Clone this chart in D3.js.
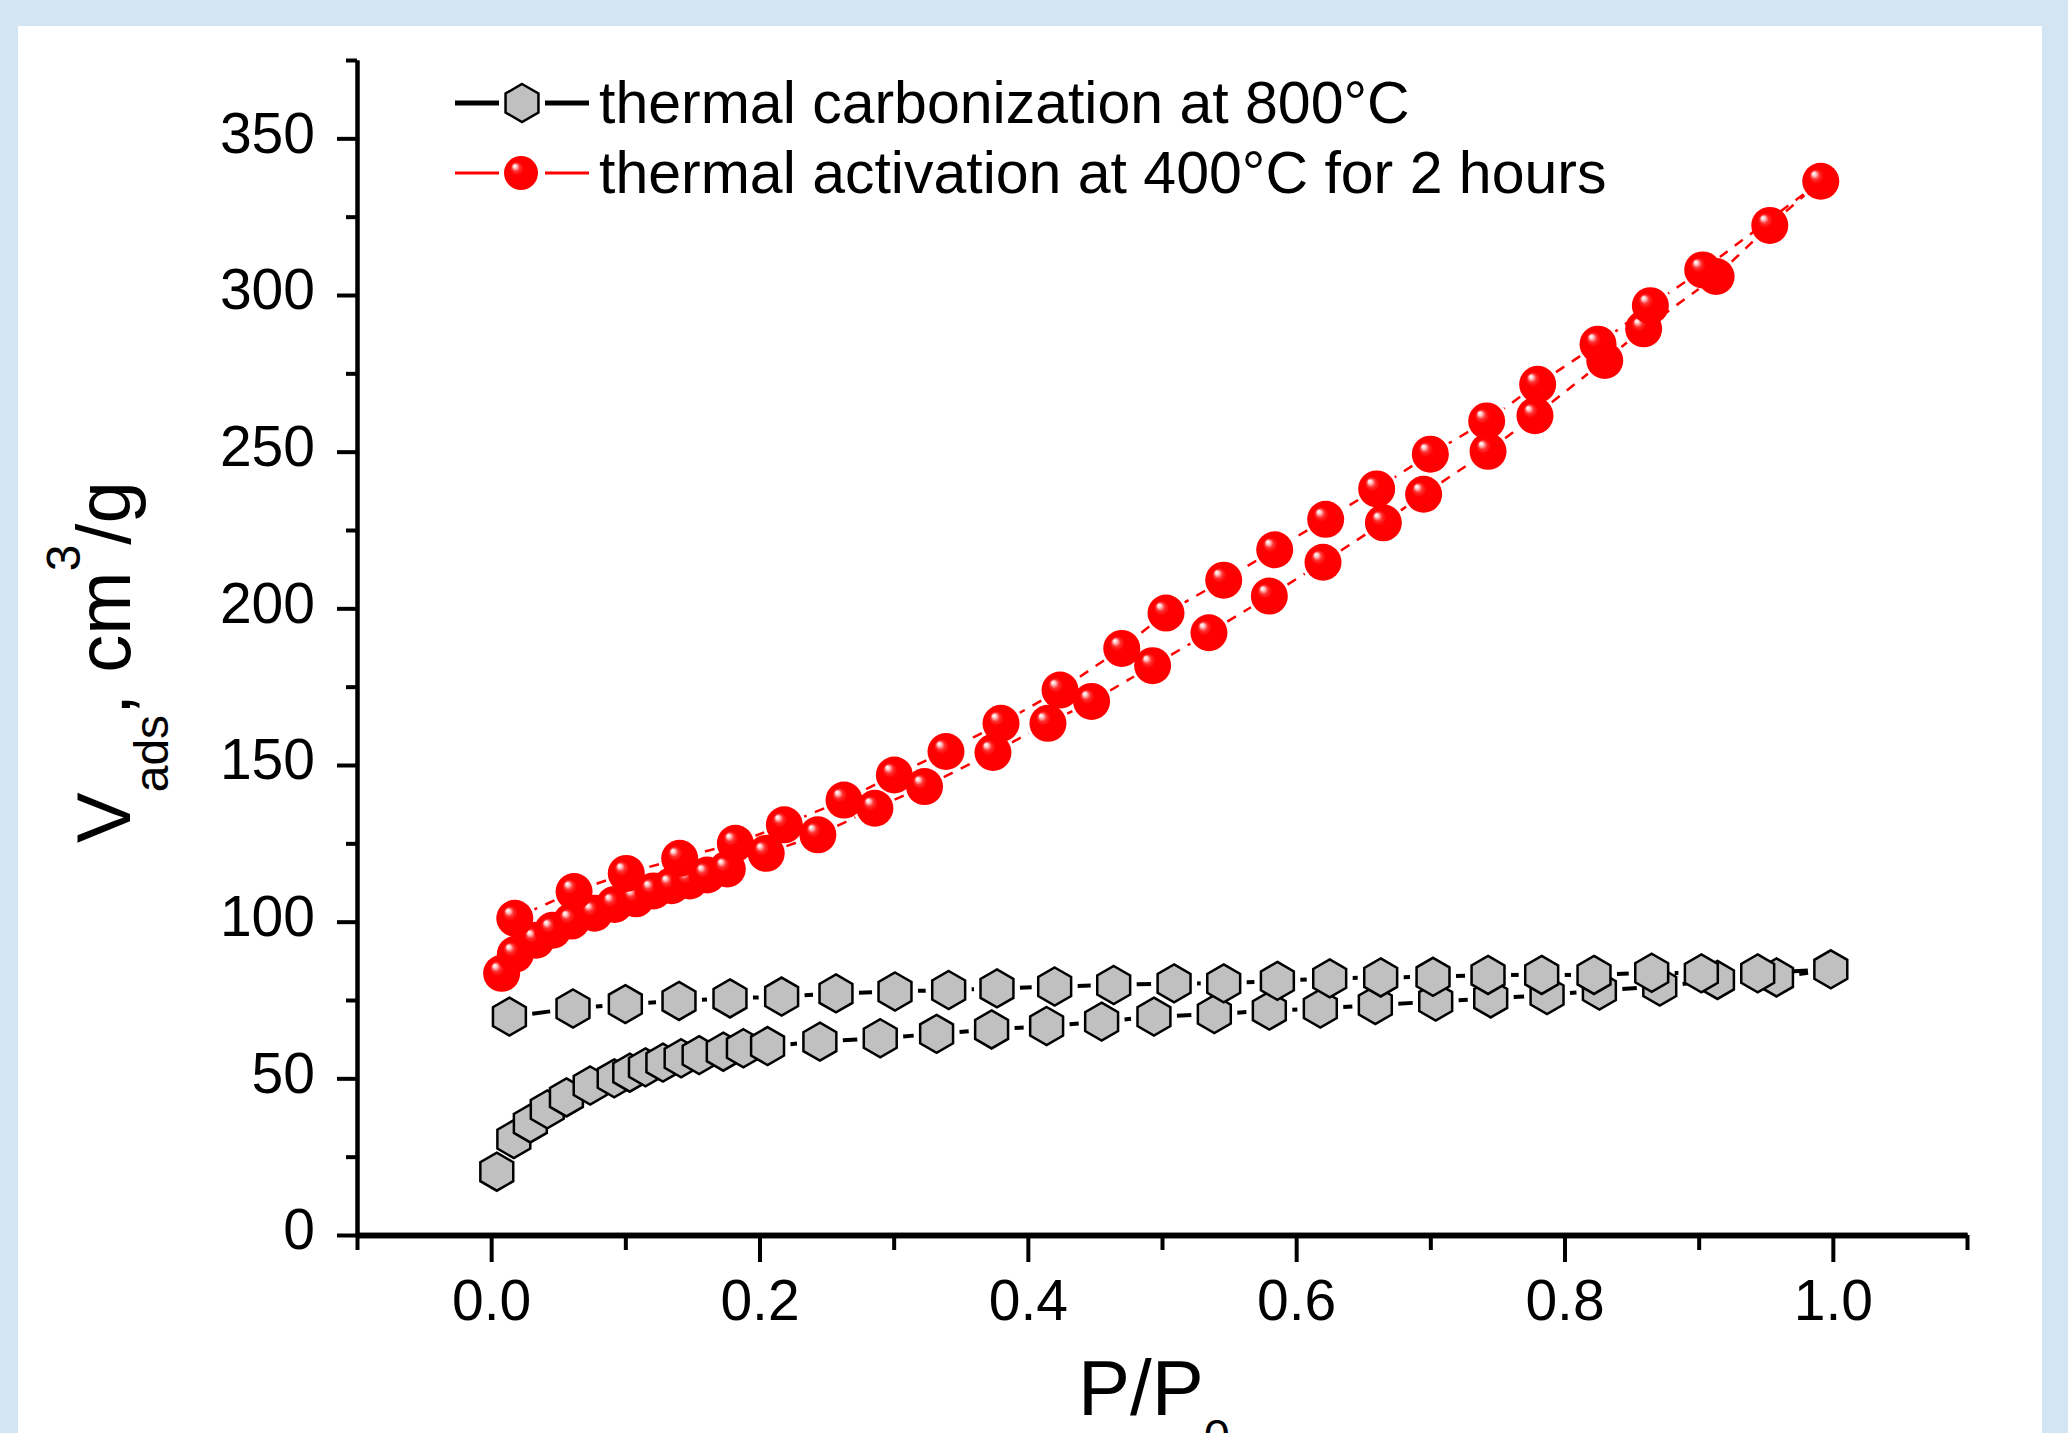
<!DOCTYPE html>
<html>
<head>
<meta charset="utf-8">
<script src="https://cdn.jsdelivr.net/npm/d3@7/dist/d3.min.js"></script>
<style>
  html, body { margin: 0; padding: 0; background: #d3e4f3; }
  svg { display: block; }
  text { font-family: "Liberation Sans", Arial, sans-serif; fill: #000; }
</style>
</head>
<body>
<svg id="chart" width="2068" height="1433"></svg>
<script>
// ---------------- data ----------------
const grayAdsX = [0.0042,0.0169,0.0292,0.0418,0.0561,0.0738,0.0917,0.1033,0.115,0.128,0.1416,0.155,0.173,0.188,0.206,0.245,0.290,0.332,0.373,0.414,0.455,0.494,0.539,0.580,0.618,0.659,0.704,0.745,0.787,0.826,0.871,0.914,0.958,0.9985];
const grayAdsY = [20.2,30.6,35.6,40.1,43.9,47.7,50.0,51.8,53.5,55.0,56.4,57.4,58.5,59.6,60.3,61.7,62.8,64.2,65.6,66.7,68.1,69.7,70.5,71.6,72.3,73.4,74.5,75.5,76.6,78.0,79.3,81.4,82.2,84.8];
const grayDesX = [0.944,0.902,0.865,0.822,0.783,0.743,0.702,0.663,0.625,0.586,0.546,0.509,0.464,0.420,0.377,0.341,0.301,0.257,0.2165,0.178,0.140,0.100,0.061,0.0136];
const grayDesY = [83.5,83.5,83.7,83.0,83.0,83.0,82.4,82.2,81.9,81.1,80.3,80.3,79.8,79.3,78.7,78.2,77.7,77.1,76.1,75.5,74.7,73.7,72.3,69.7];

const redAdsX = [0.0078,0.018,0.0335,0.046,0.060,0.077,0.092,0.108,0.121,0.1345,0.148,0.161,0.176,0.205,0.2435,0.286,0.323,0.374,0.415,0.4475,0.493,0.535,0.580,0.620,0.665,0.695,0.743,0.778,0.830,0.859,0.913,0.953,0.991];
const redAdsY = [83.5,89.6,94.1,97.3,100.2,102.7,105.5,107.3,109.8,111.5,113.0,114.9,116.8,121.8,127.7,136.2,143.1,154.0,163.3,170.3,181.7,192.2,203.9,214.7,227.3,236.4,250.1,261.5,279.1,289.2,305.9,322.2,336.3];
const redDesX = [0.903,0.864,0.825,0.780,0.742,0.700,0.660,0.622,0.584,0.546,0.503,0.470,0.424,0.380,0.339,0.3005,0.263,0.2185,0.182,0.1405,0.1007,0.0618,0.0176];
const redDesY = [308.0,296.6,284.3,271.5,259.8,249.2,238.1,228.4,218.7,209.0,198.5,187.2,173.9,163.3,154.3,146.8,138.8,130.9,125.0,120.2,115.4,109.6,101.1];

const xMajorTicks = [0.0,0.2,0.4,0.6,0.8,1.0];
const xMinorTicks = [-0.1,0.1,0.3,0.5,0.7,0.9,1.1];
const yMajorTicks = [0,50,100,150,200,250,300,350];
const yMinorTicks = [25,75,125,175,225,275,325,375];
const legendLabels = ["thermal carbonization at 800°C", "thermal activation at 400°C for 2 hours"];

// ---------------- layout ----------------
const svg = d3.select("#chart");
const W = 2068, H = 1433;
const x = d3.scaleLinear().domain([-0.1, 1.1]).range([357, 1967]);
const y = d3.scaleLinear().domain([0, 375]).range([1235, 60]);

// background
svg.append("rect").attr("width", W).attr("height", H).attr("fill", "#d3e4f3");
svg.append("rect").attr("x", 18).attr("y", 26).attr("width", 2024).attr("height", H - 26).attr("fill", "#ffffff");

const defs = svg.append("defs");
const grad = defs.append("radialGradient").attr("id", "ball")
  .attr("cx", "0.5").attr("cy", "0.5").attr("r", "0.5").attr("fx", "0.3").attr("fy", "0.28");
grad.append("stop").attr("offset", "0%").attr("stop-color", "#ffffff");
grad.append("stop").attr("offset", "10%").attr("stop-color", "#ffd0d0");
grad.append("stop").attr("offset", "24%").attr("stop-color", "#ff3030");
grad.append("stop").attr("offset", "40%").attr("stop-color", "#ff0000");
grad.append("stop").attr("offset", "100%").attr("stop-color", "#ff0000");

const HEX_R = 19, BALL_R = 18.5;
const hexPath = (() => {
  const p = d3.path();
  for (let i = 0; i < 6; i++) {
    const a = (-90 + 60 * i) * Math.PI / 180;
    const px = HEX_R * Math.cos(a), py = HEX_R * Math.sin(a);
    if (i === 0) p.moveTo(px, py); else p.lineTo(px, py);
  }
  p.closePath();
  return p.toString();
})();

// ---------------- axes ----------------
const xAxisMinor = d3.axisBottom(x).tickValues(xMinorTicks).tickSize(15).tickSizeOuter(0).tickFormat("");
const xAxisMajor = d3.axisBottom(x).tickValues(xMajorTicks).tickSize(27).tickSizeOuter(0).tickFormat(d3.format(".1f"));
const yAxisMinor = d3.axisLeft(y).tickValues(yMinorTicks).tickSize(11).tickSizeOuter(0).tickFormat("");
const yAxisMajor = d3.axisLeft(y).tickValues(yMajorTicks).tickSize(20).tickSizeOuter(0).tickFormat(d3.format("d"));

function styleAxis(g, domainW) {
  g.select(".domain").attr("stroke", "#000").attr("stroke-width", domainW);
  g.selectAll(".tick line").attr("stroke", "#000").attr("stroke-width", 4);
  g.selectAll(".tick text").style("font-family", '"Liberation Sans", Arial, sans-serif')
    .style("font-size", "57px").attr("fill", "#000");
}

const gy1 = svg.append("g").attr("transform", `translate(${x(-0.1)},0)`).call(yAxisMinor);
styleAxis(gy1, 4);
const gy2 = svg.append("g").attr("transform", `translate(${x(-0.1)},0)`).call(yAxisMajor);
styleAxis(gy2, 4);
gy2.selectAll(".tick text").attr("x", -42).attr("dy", "0.245em");

const gx1 = svg.append("g").attr("transform", `translate(0,${y(0)})`).call(xAxisMinor);
styleAxis(gx1, 5.5);
const gx2 = svg.append("g").attr("transform", `translate(0,${y(0)})`).call(xAxisMajor);
styleAxis(gx2, 5.5);
gx2.selectAll(".tick text").attr("y", 85).attr("dy", "0");

// axis titles
const xt = svg.append("text").attr("x", 1154).attr("y", 1415).attr("text-anchor", "middle")
  .style("font-size", "78px");
xt.append("tspan").text("P/P");
xt.append("tspan").attr("dy", 37).style("font-size", "47px").text("0");

const yt = svg.append("text").attr("transform", "translate(130,843) rotate(-90)")
  .attr("x", 0).attr("y", 0).style("font-size", "76px");
yt.append("tspan").text("V");
yt.append("tspan").attr("dy", 38).style("font-size", "48px").text("ads");
yt.append("tspan").attr("dy", -38).text(", cm");
yt.append("tspan").attr("dy", -50).style("font-size", "48px").text("3");
yt.append("tspan").attr("dy", 50).text("/g");

// ---------------- series ----------------
function seriesPoints(ax, ay, dx, dy) {
  const pts = ax.map((v, i) => [v, ay[i]]);
  const pts2 = dx.map((v, i) => [v, dy[i]]);
  return pts.concat(pts2);
}
function drawSegments(g, pts, gap, stroke, width, dash) {
  const segs = [];
  for (let i = 0; i < pts.length - 1; i++) {
    const x1 = x(pts[i][0]), y1 = y(pts[i][1]);
    const x2 = x(pts[i + 1][0]), y2 = y(pts[i + 1][1]);
    const L = Math.hypot(x2 - x1, y2 - y1);
    if (L <= 2 * gap) continue;
    const ux = (x2 - x1) / L, uy = (y2 - y1) / L;
    segs.push([x1 + ux * gap, y1 + uy * gap, x2 - ux * gap, y2 - uy * gap]);
  }
  g.selectAll(null).data(segs).enter().append("line")
    .attr("x1", d => d[0]).attr("y1", d => d[1]).attr("x2", d => d[2]).attr("y2", d => d[3])
    .attr("stroke", stroke).attr("stroke-width", width)
    .attr("stroke-dasharray", dash || null);
}

const grayPts = seriesPoints(grayAdsX, grayAdsY, grayDesX, grayDesY);
const redPts = seriesPoints(redAdsX, redAdsY, redDesX, redDesY);

const gGray = svg.append("g");
drawSegments(gGray, grayPts, HEX_R + 4, "#000", 4, null);
gGray.selectAll("path.hex").data(grayPts).enter().append("path").attr("class", "hex")
  .attr("d", hexPath).attr("transform", d => `translate(${x(d[0])},${y(d[1])})`)
  .attr("fill", "#c0c0c0").attr("stroke", "#000").attr("stroke-width", 2.5);

const gRed = svg.append("g");
drawSegments(gRed, redPts, BALL_R + 3, "#ff0000", 2.5, "10,9");
gRed.selectAll("circle").data(redPts).enter().append("circle")
  .attr("cx", d => x(d[0])).attr("cy", d => y(d[1])).attr("r", BALL_R)
  .attr("fill", "url(#ball)");

// ---------------- legend ----------------
const lg = svg.append("g");
const rowY = [103, 173];
// row 1
lg.append("line").attr("x1", 455).attr("x2", 499).attr("y1", rowY[0]).attr("y2", rowY[0]).attr("stroke", "#000").attr("stroke-width", 5);
lg.append("line").attr("x1", 545).attr("x2", 589).attr("y1", rowY[0]).attr("y2", rowY[0]).attr("stroke", "#000").attr("stroke-width", 5);
lg.append("path").attr("d", hexPath).attr("transform", `translate(522,${rowY[0]})`)
  .attr("fill", "#c0c0c0").attr("stroke", "#000").attr("stroke-width", 2.5);
// row 2
lg.append("line").attr("x1", 455).attr("x2", 499).attr("y1", rowY[1]).attr("y2", rowY[1]).attr("stroke", "#ff0000").attr("stroke-width", 3);
lg.append("line").attr("x1", 545).attr("x2", 589).attr("y1", rowY[1]).attr("y2", rowY[1]).attr("stroke", "#ff0000").attr("stroke-width", 3);
lg.append("circle").attr("cx", 521).attr("cy", rowY[1]).attr("r", 17).attr("fill", "url(#ball)");

lg.selectAll("text").data(legendLabels).enter().append("text")
  .attr("x", 599).attr("y", (d, i) => rowY[i] + 20)
  .style("font-size", "59px").text(d => d);
</script>
</body>
</html>
